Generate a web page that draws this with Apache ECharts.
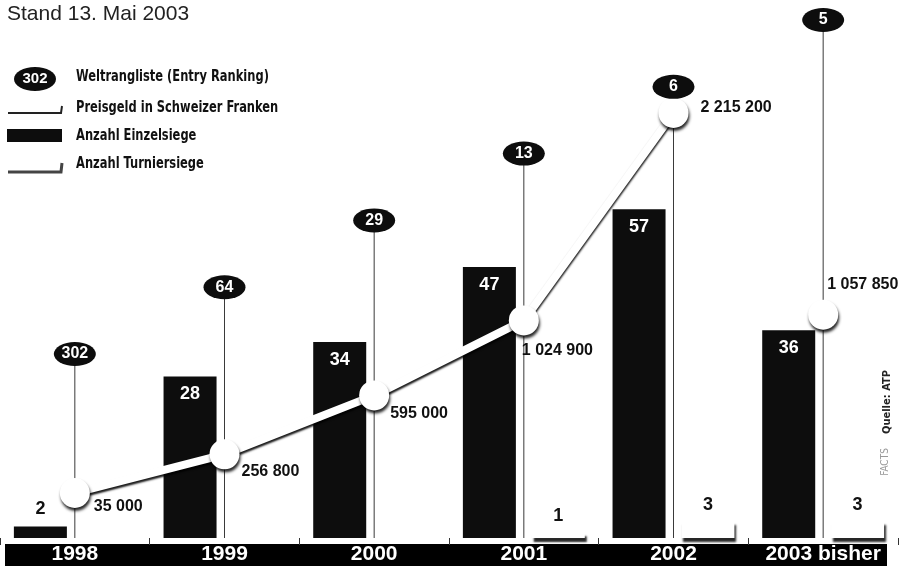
<!DOCTYPE html>
<html>
<head>
<meta charset="utf-8">
<script src="https://cdn.jsdelivr.net/npm/echarts@6/dist/echarts.min.js"></script>
<style>
  html, body { margin: 0; padding: 0; background: #fff; }
  #main { width: 901px; height: 566px; }
</style>
</head>
<body>
<div id="main"></div>
<script>
// Daten (Stand 13. Mai 2003)
const years = ["1998", "1999", "2000", "2001", "2002", "2003 bisher"];
const ranking = [302, 64, 29, 13, 6, 5];
const prizeMoney = [35000, 256800, 595000, 1024900, 2215200, 1057850];
const singlesWins = [2, 28, 34, 47, 57, 36];
const titles = [0, 0, 0, 1, 3, 3];

const narrow = "'Liberation Sans Narrow', 'DejaVu Sans Condensed', 'Arial Narrow', sans-serif";
const sans = "'Liberation Sans', Arial, sans-serif";
const ink = "#0d0d0d";

// Beschriftung Preisgeld: Versatz je Punkt (nur Layout)
const priceLabelOffset = [[0, 14], [-2, 17], [-3, 18], [-21, 30], [8, -5], [-15, -30]];

// Ranglisten-Ellipsen stufenweise nach oben
const levelMin = -2.754;
const rankLevels = ranking.map((r, i) => i);
const lastIdx = years.length - 1; // 2003 = laufendes Jahr, nicht verbunden

function fmt(n) {
  return String(n).replace(/\B(?=(\d{3})+(?!\d))/g, " ");
}

function priceItem(v, i) {
  return { value: v, label: { offset: priceLabelOffset[i] } };
}

const priceLine = {
  color: "#fff",
  width: 8,
  shadowColor: "rgba(0,0,0,0.9)",
  shadowBlur: 2,
  shadowOffsetY: 2.5
};
const priceDot = {
  color: "#fff",
  shadowColor: "rgba(0,0,0,0.85)",
  shadowBlur: 3,
  shadowOffsetX: 1,
  shadowOffsetY: 3
};
const priceLabel = {
  show: true,
  position: "right",
  distance: 4,
  color: "#111",
  fontWeight: "bold",
  fontSize: 16,
  fontFamily: sans,
  formatter: p => fmt(p.value)
};

const textMid = { verticalAlign: "middle", textVerticalAlign: "middle" };
const textCenter = { align: "center", textAlign: "center", verticalAlign: "middle", textVerticalAlign: "middle" };

function legendText(y, text) {
  return {
    type: "text", x: 76, y: y, scaleX: 0.85,
    style: Object.assign({ text: text, font: "bold 15px " + narrow, fill: "#111" }, textMid)
  };
}

const chart = echarts.init(document.getElementById("main"));
chart.setOption({
  animation: false,
  backgroundColor: "#fff",
  grid: { left: -4, right: 3, top: 20, bottom: 28 },
  xAxis: {
    type: "category",
    data: years,
    boundaryGap: true,
    axisLine: { show: false, onZero: false },
    axisTick: { show: true, interval: 0, length: 7, lineStyle: { color: "#333" } },
    axisLabel: {
      interval: 0,
      hideOverlap: false,
      color: "#fff",
      fontWeight: "bold",
      fontSize: 21,
      fontFamily: sans,
      margin: 6
    },
    splitLine: { show: false }
  },
  yAxis: [
    { type: "value", min: 0, max: 89.8, show: false },
    { type: "value", min: -223200, max: 2748600, show: false },
    { type: "value", min: levelMin, max: 5, show: false }
  ],
  graphic: [
    // schwarzes Jahresband
    { type: "rect", z: -1, shape: { x: 5, y: 544, width: 882, height: 22 }, style: { fill: "#000" } },
    { type: "text", x: 7, y: 4, style: { text: "Stand 13. Mai 2003", font: "21px " + sans, fill: "#222" } },
    // Legende
    { type: "ellipse", shape: { cx: 35, cy: 79, rx: 21, ry: 12 }, style: { fill: ink } },
    { type: "text", x: 35, y: 79, style: Object.assign({ text: "302", font: "bold 15px " + sans, fill: "#fff" }, textCenter) },
    { type: "polyline", shape: { points: [[8, 113], [61, 113], [62, 106]] }, style: { stroke: "#222", lineWidth: 2, fill: null } },
    { type: "rect", shape: { x: 7, y: 129, width: 55, height: 13 }, style: { fill: ink } },
    { type: "polyline", shape: { points: [[8, 172], [61, 172], [62, 163]] }, style: { stroke: "#444", lineWidth: 3, fill: null } },
    legendText(77, "Weltrangliste (Entry Ranking)"),
    legendText(108, "Preisgeld in Schweizer Franken"),
    legendText(136, "Anzahl Einzelsiege"),
    legendText(164, "Anzahl Turniersiege"),
    // Quelle
    { type: "text", x: 887, y: 402, rotation: Math.PI / 2, style: Object.assign({ text: "Quelle: ATP", font: "bold 11px " + narrow, fill: "#222" }, textCenter) },
    { type: "text", x: 885, y: 462, rotation: Math.PI / 2, style: Object.assign({ text: "FACTS", font: "10px " + narrow, fill: "#999" }, textCenter) }
  ],
  series: [
    {
      name: "Anzahl Einzelsiege",
      type: "bar",
      yAxisIndex: 0,
      barWidth: 53,
      barGap: "30%",
      z: 2,
      itemStyle: { color: ink },
      label: {
        show: true,
        position: "insideTop",
        distance: 9,
        color: "#fff",
        fontWeight: "bold",
        fontSize: 18,
        fontFamily: sans
      },
      data: singlesWins.map(v =>
        v < 5 ? { value: v, label: { position: "top", color: "#111", distance: 8 } } : v
      )
    },
    {
      name: "Anzahl Turniersiege",
      type: "bar",
      yAxisIndex: 0,
      barWidth: 53,
      z: 2,
      itemStyle: {
        color: "#fff",
        shadowColor: "rgba(0,0,0,0.85)",
        shadowBlur: 2,
        shadowOffsetX: 2,
        shadowOffsetY: 4
      },
      label: {
        show: true,
        position: "top",
        distance: 7,
        color: "#111",
        fontWeight: "bold",
        fontSize: 18,
        fontFamily: sans,
        formatter: p => (p.value > 0 ? p.value : "")
      },
      data: titles
    },
    {
      // senkrechte Linien von der Rangliste bis zur Basis
      type: "custom",
      yAxisIndex: 2,
      z: 1,
      silent: true,
      renderItem: function (params, api) {
        const top = api.coord([api.value(0), api.value(1)]);
        const bottom = api.coord([api.value(0), levelMin]);
        return {
          type: "line",
          shape: { x1: top[0], y1: top[1], x2: bottom[0], y2: bottom[1] },
          style: { stroke: "#3a3a3a", lineWidth: 1 }
        };
      },
      data: rankLevels.map((l, i) => [i, l])
    },
    {
      name: "Preisgeld in Schweizer Franken",
      type: "line",
      yAxisIndex: 1,
      z: 5,
      symbol: "circle",
      symbolSize: 30,
      connectNulls: false,
      lineStyle: priceLine,
      itemStyle: priceDot,
      label: priceLabel,
      data: prizeMoney.map((v, i) => (i < lastIdx ? priceItem(v, i) : null))
    },
    {
      // 2003 bisher: einzelner Punkt ohne Verbindung
      name: "Preisgeld in Schweizer Franken",
      type: "line",
      yAxisIndex: 1,
      z: 5,
      symbol: "circle",
      symbolSize: 30,
      lineStyle: priceLine,
      itemStyle: priceDot,
      label: priceLabel,
      data: prizeMoney.map((v, i) => (i === lastIdx ? priceItem(v, i) : null))
    },
    {
      name: "Weltrangliste (Entry Ranking)",
      type: "scatter",
      yAxisIndex: 2,
      z: 6,
      symbol: "path://M0 50A50 50 0 1 1 100 50A50 50 0 1 1 0 50Z",
      symbolSize: [42, 24],
      itemStyle: { color: ink, opacity: 1 },
      label: {
        show: true,
        position: "inside",
        color: "#fff",
        fontWeight: "bold",
        fontSize: 16,
        fontFamily: sans,
        formatter: p => ranking[p.dataIndex]
      },
      data: rankLevels.map((l, i) => [i, l])
    }
  ]
});
</script>
</body>
</html>
